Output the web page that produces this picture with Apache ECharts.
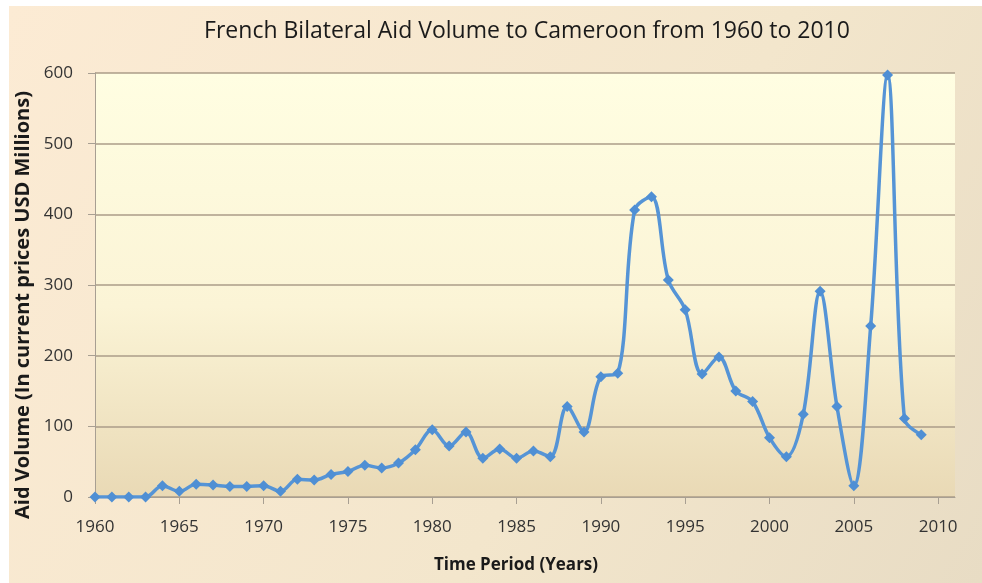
<!DOCTYPE html>
<html>
<head>
<meta charset="utf-8">
<script src="https://cdn.jsdelivr.net/npm/echarts@6/dist/echarts.min.js"></script>
<style>
  html, body { margin: 0; padding: 0; background: #fff; }
  #chart { width: 982px; height: 583px; }
</style>
</head>
<body>
<div id="chart"></div>
<script>
// aid volume per year, current prices USD millions
var years = [];
for (var y = 1960; y <= 2009; y++) years.push(y);
var aid = [
  0, 0, 0, 0, 16, 8, 18, 17, 15, 15,
  16, 8, 25, 24, 32, 36, 45, 41, 48, 67,
  95, 72, 92, 55, 68, 55, 65, 57, 128, 92,
  170, 175, 406, 425, 307, 265, 174, 198, 150, 135,
  84, 57, 117, 291, 128, 16, 242, 597, 111, 88
];
var titleText = 'French Bilateral Aid Volume to Cameroon from 1960 to 2010';
var xName = 'Time Period (Years)';
var yName = 'Aid Volume (In current prices USD Millions)';

var font = '"Open Sans", sans-serif';

var chart = echarts.init(document.getElementById('chart'));
chart.setOption({
  backgroundColor: '#ffffff',
  graphic: [{
    type: 'rect', left: 9, top: 6, z: -100, silent: true,
    shape: { width: 973, height: 577 },
    style: {
      fill: {
        type: 'linear', x: 0, y: 0, x2: 1, y2: 1,
        colorStops: [
          { offset: 0, color: '#fcebd4' },
          { offset: 0.6, color: '#f3e6cc' },
          { offset: 1, color: '#e8dcc4' }
        ]
      }
    }
  }],
  title: {
    text: titleText,
    left: 522, top: 15, textAlign: 'center',
    textStyle: { fontFamily: font, fontSize: 23, fontWeight: 500, color: '#1a1a1a' }
  },
  grid: {
    left: 95, right: 27, top: 73, bottom: 86,
    show: true,
    borderWidth: 0,
    backgroundColor: {
      type: 'linear', x: 0, y: 0, x2: 0, y2: 1,
      colorStops: [
        { offset: 0, color: '#fffee2' },
        { offset: 0.55, color: '#fbf4d6' },
        { offset: 1, color: '#e9d9b5' }
      ]
    }
  },
  xAxis: {
    type: 'value',
    min: 1960, max: 2011, interval: 5,
    name: xName,
    nameLocation: 'middle',
    nameGap: 60,
    nameTextStyle: { fontFamily: font, fontSize: 17, fontWeight: 'bold', color: '#1a1a1a', padding: [0, 18, 0, 0] },
    axisLine: { lineStyle: { color: '#a89f92', width: 1 } },
    axisTick: { show: true, length: 7, lineStyle: { color: '#a89f92' } },
    axisLabel: {
      fontFamily: font, fontSize: 17, color: '#333', margin: 22, showMaxLabel: false,
      formatter: function (v) { return String(v); }
    },
    splitLine: { show: false }
  },
  yAxis: {
    type: 'value',
    min: 0, max: 600, interval: 100,
    name: yName,
    nameLocation: 'middle',
    nameGap: 62,
    nameRotate: 90,
    nameTextStyle: { fontFamily: font, fontSize: 20, fontWeight: 'bold', color: '#1a1a1a', padding: [0, 40, 0, 0] },
    axisLine: { show: true, lineStyle: { color: '#a89f92', width: 1 } },
    axisTick: { show: true, length: 7, lineStyle: { color: '#a89f92' } },
    axisLabel: { fontFamily: font, fontSize: 17, color: '#333', margin: 22 },
    splitLine: { show: true, lineStyle: { color: '#ab9d88', width: 1.5 } }
  },
  series: [{
    type: 'line',
    data: years.map(function (yr, i) { return [yr, aid[i]]; }),
    smooth: 0.35,
    symbol: 'diamond',
    symbolSize: 11,
    lineStyle: { color: '#5594d6', width: 3.5 },
    itemStyle: { color: '#4f8fd4' },
    animation: false
  }]
});
</script>
</body>
</html>
